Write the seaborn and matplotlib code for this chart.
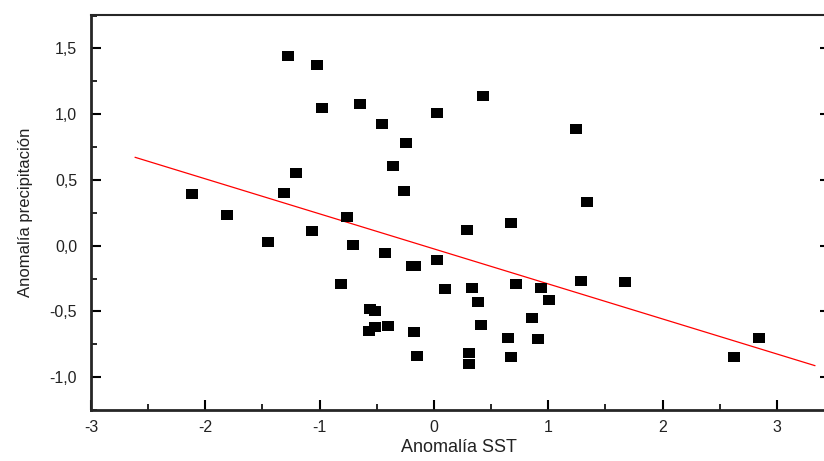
import numpy as np
import matplotlib
matplotlib.use("Agg")
import matplotlib.pyplot as plt
from matplotlib.ticker import FuncFormatter, MultipleLocator
import seaborn as sns

# points
sst_anom = [-2.12, -1.81, -1.45, -1.31, -1.28, -1.21, -1.07, -1.02, -0.975, -0.81,
            -0.76, -0.71, -0.645, -0.57, -0.559, -0.515, -0.515, -0.45, -0.43, -0.40,
            -0.355, -0.26, -0.24, -0.195, -0.165, -0.17, -0.15, 0.025, 0.025, 0.10,
            0.29, 0.31, 0.31, 0.335, 0.385, 0.41, 0.43, 0.65, 0.67, 0.67,
            0.72, 0.86, 0.91, 0.935, 1.005, 1.245, 1.29, 1.335, 1.67, 2.625, 2.84]
prec_anom = [0.39, 0.23, 0.03, 0.40, 1.445, 0.55, 0.11, 1.37, 1.045, -0.29,
             0.22, 0.005, 1.08, -0.65, -0.485, -0.495, -0.615, 0.925, -0.055, -0.61,
             0.605, 0.415, 0.78, -0.155, -0.155, -0.655, -0.84, 1.005, -0.11, -0.33,
             0.12, -0.82, -0.90, -0.32, -0.425, -0.60, 1.135, -0.70, 0.17, -0.85,
             -0.29, -0.55, -0.71, -0.32, -0.41, 0.885, -0.27, 0.33, -0.275, -0.845, -0.705]

# linear fit as drawn in the reference
fit_slope = -0.2664
fit_intercept = -0.0247
fit_range = [-2.615, 3.334]

sns.set_style("ticks")
plt.rcParams["font.family"] = ["Liberation Sans", "DejaVu Sans"]
plt.rcParams["axes.unicode_minus"] = False

fig = plt.figure(figsize=(8.24, 4.61), dpi=100)
ax = fig.add_axes([91 / 824, 51 / 461, 735 / 824, 395 / 461])

rect = [(-1, -0.75), (1, -0.75), (1, 0.75), (-1, 0.75)]
sns.scatterplot(x=sst_anom, y=prec_anom, marker=rect, s=75, color="black",
                linewidth=0, ax=ax, zorder=3)

line_x = np.array(fit_range)
sns.lineplot(x=line_x, y=fit_slope * line_x + fit_intercept, color="red",
             linewidth=0.9, ax=ax, zorder=2)

ax.set_xlim(-3, 3.43)
ax.set_ylim(-1.25, 1.754)

ax.xaxis.set_major_locator(MultipleLocator(1))
ax.xaxis.set_minor_locator(MultipleLocator(0.5))
ax.yaxis.set_major_locator(MultipleLocator(0.5))
ax.yaxis.set_minor_locator(MultipleLocator(0.25))
ax.xaxis.set_major_formatter(FuncFormatter(lambda v, p: f"{v:.0f}"))
ax.yaxis.set_major_formatter(FuncFormatter(lambda v, p: f"{v:.1f}".replace(".", ",")))

ax.spines["right"].set_visible(False)
for side in ["left", "bottom"]:
    ax.spines[side].set_linewidth(2)
ax.spines["top"].set_linewidth(1.5)

ax.tick_params(axis="both", which="both", direction="in", colors="black",
               labelcolor="#222222", labelsize=11.5)
ax.tick_params(axis="both", which="major", length=7, width=1.5)
ax.tick_params(axis="both", which="minor", length=4, width=1.2)
ax.tick_params(axis="y", which="minor", right=False)
ax.tick_params(axis="x", pad=7)
ax.tick_params(axis="y", pad=10)

# short stubs on the right edge at the major ticks only
ax.yaxis.set_ticks_position("both")
ax.tick_params(axis="y", which="minor", right=False)
for tick in ax.yaxis.get_major_ticks():
    tick.tick2line.set_markersize(4)
    tick.tick2line.set_markeredgewidth(1.5)

ax.set_xlabel("Anomalía SST", fontsize=13, color="#222222", labelpad=3)
ax.set_ylabel("Anomalía precipitación", fontsize=12, color="#222222", labelpad=12)

fig.savefig("out.png", dpi=100)
